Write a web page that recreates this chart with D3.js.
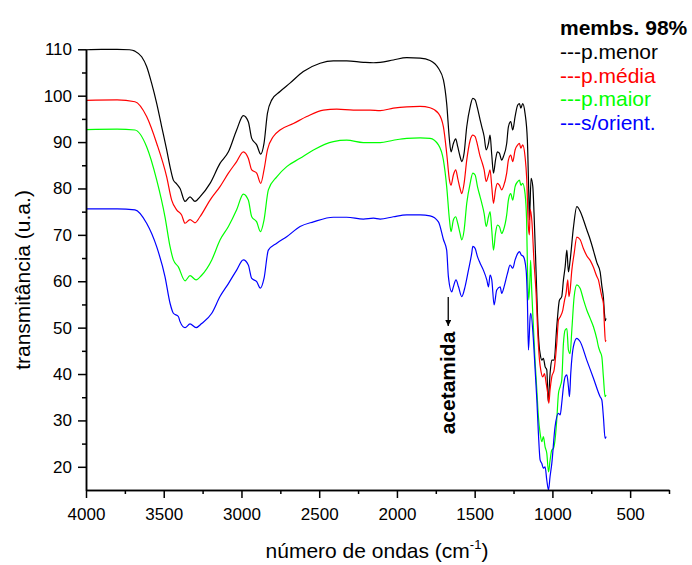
<!DOCTYPE html>
<html>
<head>
<meta charset="utf-8">
<script src="https://cdn.jsdelivr.net/npm/d3@7/dist/d3.min.js"></script>
<style>
  body { margin: 0; background: #fff; }
  svg { display: block; font-family: "Liberation Sans", Arial, sans-serif; }
</style>
</head>
<body>
<svg id="chart" width="692" height="565"></svg>
<script>
// [número de ondas, transmitância]
const pMenor = [
  [4000, 109.9], [3900, 110.0], [3800, 110.0], [3720, 109.9], [3685, 109.6], [3642, 108.4],
  [3610, 106.3], [3578, 102.7], [3545, 98.3], [3513, 93.3], [3481, 88.3], [3455, 84.0],
  [3438, 81.8], [3417, 81.0], [3395, 80.0], [3363, 77.2], [3331, 78.2], [3299, 77.2],
  [3267, 78.2], [3202, 81.1], [3138, 85.4], [3084, 87.9], [3031, 92.6], [2988, 95.7],
  [2956, 94.4], [2934, 90.8], [2902, 89.4], [2876, 87.4], [2855, 89.7], [2833, 96.2],
  [2805, 99.1], [2752, 100.9], [2688, 102.7], [2602, 105.2], [2494, 107.0], [2409, 107.5],
  [2323, 107.5], [2216, 107.2], [2151, 107.1], [2108, 107.2], [2023, 107.7], [1937, 108.2],
  [1851, 108.1], [1787, 107.6], [1733, 105.9], [1701, 103.4], [1680, 98.3], [1662, 90.4],
  [1652, 87.9], [1637, 89.7], [1622, 90.7], [1609, 89.0], [1594, 86.9], [1583, 85.8],
  [1568, 87.6], [1551, 93.3], [1529, 97.6], [1512, 99.4], [1497, 99.1], [1482, 97.3],
  [1465, 94.8], [1454, 93.3], [1439, 91.2], [1426, 88.3], [1411, 89.7], [1401, 91.5],
  [1390, 87.2], [1379, 83.3], [1366, 86.1], [1354, 87.9], [1341, 87.6], [1326, 86.1],
  [1315, 86.9], [1294, 89.7], [1283, 93.3], [1268, 94.4], [1255, 92.6], [1240, 95.5],
  [1223, 98.0], [1212, 98.3], [1203, 97.3], [1191, 98.3], [1176, 96.2], [1161, 90.4],
  [1152, 78.9], [1148, 73.2], [1137, 82.2], [1126, 80.4], [1118, 74.6], [1105, 62.0],
  [1095, 52.0], [1085, 46.0], [1079, 44.4], [1068, 43.0], [1058, 43.4], [1047, 41.6],
  [1036, 40.9], [1027, 34.0], [1015, 40.1], [1004, 43.0], [989, 43.0], [972, 50.2],
  [955, 55.9], [940, 56.7], [929, 60.3], [918, 63.1], [907, 66.7], [897, 62.0],
  [886, 64.5], [865, 71.5], [843, 76.1], [820, 75.0], [800, 73.2], [780, 71.2],
  [757, 69.0], [735, 66.5], [714, 64.0], [693, 62.0], [682, 59.0], [672, 56.5],
  [665, 53.0], [660, 51.5], [655, 52.0]
];

const pMedia = [
  [4000, 99.0], [3800, 99.1], [3685, 98.7], [3610, 95.5], [3545, 89.7], [3481, 82.5],
  [3449, 77.5], [3417, 75.4], [3385, 74.3], [3363, 72.5], [3331, 73.3], [3299, 72.6],
  [3267, 73.9], [3202, 77.5], [3138, 80.4], [3084, 83.3], [3031, 85.8], [2988, 87.9],
  [2956, 86.5], [2934, 84.0], [2902, 83.3], [2876, 81.1], [2855, 84.0], [2833, 88.3],
  [2795, 91.2], [2752, 92.6], [2666, 94.0], [2580, 95.5], [2473, 96.9], [2387, 97.1],
  [2280, 96.9], [2173, 96.9], [2108, 96.8], [2023, 97.3], [1937, 97.6], [1851, 97.7],
  [1787, 97.4], [1733, 96.2], [1701, 93.3], [1680, 87.6], [1662, 81.8], [1652, 80.7],
  [1637, 82.9], [1622, 84.0], [1609, 82.2], [1594, 80.0], [1583, 78.9], [1568, 81.1],
  [1551, 86.1], [1529, 90.4], [1512, 91.5], [1497, 91.2], [1482, 89.4], [1465, 86.9],
  [1454, 85.8], [1439, 84.0], [1426, 81.5], [1411, 82.9], [1401, 84.0], [1390, 80.4],
  [1379, 76.8], [1366, 79.7], [1354, 81.1], [1341, 80.7], [1326, 79.7], [1315, 80.4],
  [1294, 83.3], [1283, 86.1], [1268, 87.2], [1255, 85.8], [1240, 88.3], [1223, 89.4],
  [1212, 89.7], [1203, 88.7], [1191, 89.4], [1176, 86.9], [1165, 82.0], [1155, 72.0],
  [1148, 70.0], [1143, 75.5], [1132, 73.0], [1118, 64.0], [1105, 57.4], [1096, 50.2],
  [1083, 43.0], [1075, 40.9], [1062, 39.4], [1051, 40.1], [1040, 38.0], [1030, 35.8],
  [1023, 33.7], [1015, 36.6], [1004, 39.4], [989, 40.9], [972, 46.6], [961, 51.6],
  [950, 52.3], [933, 53.8], [922, 55.9], [912, 57.4], [901, 60.3], [894, 56.7],
  [886, 58.1], [875, 62.4], [860, 66.0], [843, 69.5], [822, 69.0], [800, 67.0],
  [779, 65.5], [757, 64.5], [736, 63.0], [714, 61.0], [704, 60.3], [693, 58.5],
  [682, 56.7], [672, 55.2], [665, 50.2], [659, 47.0], [655, 47.3]
];

const pMaior = [
  [4000, 92.7], [3800, 92.8], [3685, 92.6], [3610, 89.0], [3545, 81.8], [3492, 73.9],
  [3459, 67.4], [3438, 64.6], [3406, 63.1], [3363, 60.1], [3331, 61.2], [3292, 60.3],
  [3256, 61.3], [3191, 64.6], [3138, 68.9], [3084, 71.8], [3031, 75.4], [2988, 78.8],
  [2956, 77.5], [2934, 73.9], [2902, 72.8], [2878, 70.7], [2855, 73.2], [2827, 79.7],
  [2773, 82.5], [2709, 84.7], [2623, 86.5], [2537, 88.3], [2409, 90.1], [2323, 90.4],
  [2216, 89.9], [2151, 89.9], [2108, 89.9], [2023, 90.4], [1937, 90.8], [1851, 90.9],
  [1787, 90.8], [1733, 89.4], [1701, 86.1], [1680, 80.4], [1662, 73.2], [1652, 70.7],
  [1637, 73.2], [1622, 73.9], [1609, 72.5], [1594, 70.3], [1583, 68.9], [1568, 71.0],
  [1551, 76.8], [1529, 81.1], [1512, 83.3], [1497, 82.9], [1482, 80.4], [1465, 78.2],
  [1454, 76.8], [1439, 74.6], [1426, 71.8], [1411, 73.9], [1401, 75.0], [1390, 71.0],
  [1379, 66.7], [1366, 70.3], [1354, 72.1], [1341, 71.8], [1326, 70.3], [1315, 71.0],
  [1294, 74.3], [1283, 77.5], [1268, 78.9], [1255, 77.5], [1240, 80.4], [1223, 81.5],
  [1212, 81.8], [1203, 80.7], [1191, 81.1], [1176, 78.9], [1166, 73.2], [1160, 62.0],
  [1152, 56.0], [1145, 60.0], [1140, 64.5], [1133, 58.0], [1122, 50.0], [1110, 42.0],
  [1100, 36.5], [1090, 30.8], [1079, 27.2], [1068, 25.4], [1058, 26.5], [1047, 24.3],
  [1036, 22.9], [1025, 18.9], [1015, 21.4], [1004, 23.6], [993, 24.0], [983, 25.8],
  [972, 30.1], [961, 35.8], [950, 37.3], [940, 38.7], [929, 46.6], [918, 49.5],
  [907, 49.8], [897, 45.2], [886, 44.4], [875, 49.5], [860, 56.7], [843, 59.2],
  [822, 58.5], [800, 56.0], [779, 53.8], [757, 52.0], [736, 50.2], [714, 47.5],
  [704, 45.9], [693, 44.8], [682, 43.7], [672, 39.4], [661, 35.1], [655, 35.5]
];

const sOrient = [
  [4000, 75.6], [3800, 75.6], [3685, 75.4], [3610, 72.5], [3545, 67.4], [3492, 61.0],
  [3459, 55.2], [3438, 53.1], [3406, 52.4], [3395, 51.3], [3363, 50.0], [3331, 50.8],
  [3292, 50.0], [3256, 50.9], [3191, 53.1], [3138, 56.7], [3084, 59.5], [3031, 62.4],
  [2988, 64.6], [2956, 63.5], [2934, 60.6], [2902, 59.9], [2878, 58.5], [2855, 60.6],
  [2827, 66.7], [2773, 68.2], [2709, 69.6], [2623, 71.8], [2537, 72.8], [2409, 73.8],
  [2323, 73.8], [2216, 73.4], [2151, 73.6], [2108, 73.4], [2023, 73.9], [1937, 74.3],
  [1851, 74.3], [1787, 74.1], [1733, 72.8], [1701, 69.0], [1680, 66.7], [1669, 61.0],
  [1647, 57.7], [1637, 58.8], [1620, 60.3], [1604, 58.8], [1583, 56.7], [1562, 58.8],
  [1540, 62.4], [1519, 66.0], [1512, 67.5], [1497, 67.1], [1482, 65.3], [1465, 63.9],
  [1444, 62.4], [1422, 60.3], [1411, 58.8], [1401, 61.3], [1390, 60.3], [1375, 54.9],
  [1358, 58.1], [1336, 58.8], [1326, 57.4], [1311, 58.8], [1289, 61.7], [1272, 63.5],
  [1255, 62.8], [1240, 64.6], [1223, 66.0], [1212, 66.4], [1201, 65.7], [1186, 65.3],
  [1169, 62.4], [1161, 56.0], [1154, 45.2], [1143, 52.4], [1139, 53.1], [1122, 47.3],
  [1111, 40.9], [1100, 34.4], [1090, 27.2], [1079, 21.5], [1068, 20.7], [1058, 19.7],
  [1047, 20.0], [1036, 17.1], [1025, 15.0], [1015, 17.9], [1004, 20.7], [983, 28.6],
  [961, 31.5], [950, 31.2], [940, 33.7], [929, 37.3], [918, 39.4], [907, 39.8],
  [897, 37.3], [890, 35.1], [882, 40.1], [865, 45.9], [843, 47.7], [822, 47.0],
  [779, 43.0], [736, 39.1], [693, 35.1], [682, 34.4], [672, 30.8], [661, 26.1],
  [654, 26.5]
];

const seriesNames = ['p.menor', 'p.média', 'p.maior', 's/orient.'];
const seriesColors = ['#000000', '#ff0000', '#00ff00', '#0000ff'];
const seriesData = [pMenor, pMedia, pMaior, sOrient];

const xMajor = [4000, 3500, 3000, 2500, 2000, 1500, 1000, 500];
const xMinor = [3750, 3250, 2750, 2250, 1750, 1250, 750, 250];
const yMajor = [20, 30, 40, 50, 60, 70, 80, 90, 100, 110];
const yMinor = [25, 35, 45, 55, 65, 75, 85, 95, 105];

const legendTitle = 'membs. 98%';
const annotation = { label: 'acetamida', wn: 1670 };

main();

function main () {
  const svg = d3.select('#chart');
  const x = d3.scaleLinear().domain([4000, 250]).range([86, 669]);
  const y = d3.scaleLinear().domain([15, 110]).range([490, 49.3]);

  drawSpectra(svg, x, y);
  drawAxes(svg, x, y);
  drawLegend(svg);
  drawAnnotation(svg, x, y);
}

function drawSpectra (svg, x, y) {
  const line = d3.line()
    .x(d => x(d[0]))
    .y(d => y(d[1]))
    .curve(d3.curveMonotoneX);

  seriesData.forEach((data, i) => {
    svg.append('path')
      .attr('d', line(data))
      .attr('fill', 'none')
      .attr('stroke', seriesColors[i])
      .attr('stroke-width', 1.2)
      .attr('stroke-linejoin', 'round');
  });
}

function drawAxes (svg, x, y) {
  const bottom = svg.append('g').attr('transform', 'translate(0,490)');
  bottom.call(d3.axisBottom(x).tickValues(xMajor).tickFormat(d3.format('d'))
    .tickSize(8).tickPadding(10).tickSizeOuter(0));
  bottom.append('g').call(d3.axisBottom(x).tickValues(xMinor).tickSize(4).tickFormat('').tickSizeOuter(0));

  const left = svg.append('g').attr('transform', 'translate(86,0)');
  left.call(d3.axisLeft(y).tickValues(yMajor).tickFormat(d3.format('d'))
    .tickSize(8).tickPadding(6).tickSizeOuter(0));
  left.append('g').call(d3.axisLeft(y).tickValues(yMinor).tickSize(4).tickFormat('').tickSizeOuter(0));

  svg.selectAll('.domain, .tick line').attr('stroke', '#000').attr('stroke-width', 1.5);
  svg.selectAll('.tick text')
    .attr('font-size', 17)
    .attr('font-family', '"Liberation Sans", Arial, sans-serif')
    .attr('fill', '#000');

  const xTitle = svg.append('text')
    .attr('x', 377)
    .attr('y', 558)
    .attr('text-anchor', 'middle')
    .attr('font-size', 21);
  xTitle.append('tspan').text('número de ondas (cm');
  xTitle.append('tspan').text('-1').attr('font-size', 13).attr('dy', -9);
  xTitle.append('tspan').text(')').attr('dy', 9);

  svg.append('text')
    .text('transmitância (u.a.)')
    .attr('text-anchor', 'middle')
    .attr('font-size', 21)
    .attr('transform', 'translate(30,280) rotate(-90)');
}

function drawLegend (svg) {
  svg.append('text')
    .text(legendTitle)
    .attr('x', 560)
    .attr('y', 35)
    .attr('font-size', 21)
    .attr('font-weight', 'bold');

  seriesNames.forEach((name, i) => {
    svg.append('text')
      .text('---' + name)
      .attr('x', 560)
      .attr('y', 59 + i * 23.5)
      .attr('font-size', 21)
      .attr('fill', seriesColors[i]);
  });
}

function drawAnnotation (svg, x, y) {
  svg.append('defs').append('marker')
    .attr('id', 'arrow')
    .attr('viewBox', '0 0 10 10')
    .attr('refX', 10)
    .attr('refY', 5)
    .attr('markerWidth', 6)
    .attr('markerHeight', 6)
    .attr('markerUnits', 'userSpaceOnUse')
    .attr('orient', 'auto')
    .append('path')
    .attr('d', 'M0,0 L10,5 L0,10 z')
    .attr('fill', '#000');

  const ax = x(annotation.wn);
  svg.append('line')
    .attr('x1', ax)
    .attr('x2', ax)
    .attr('y1', 297)
    .attr('y2', 326)
    .attr('stroke', '#000')
    .attr('stroke-width', 1.3)
    .attr('marker-end', 'url(#arrow)');

  svg.append('text')
    .text(annotation.label)
    .attr('text-anchor', 'middle')
    .attr('font-size', 21)
    .attr('font-weight', 'bold')
    .attr('transform', `translate(${ax + 7},383) rotate(-90)`);
}
</script>
</body>
</html>
